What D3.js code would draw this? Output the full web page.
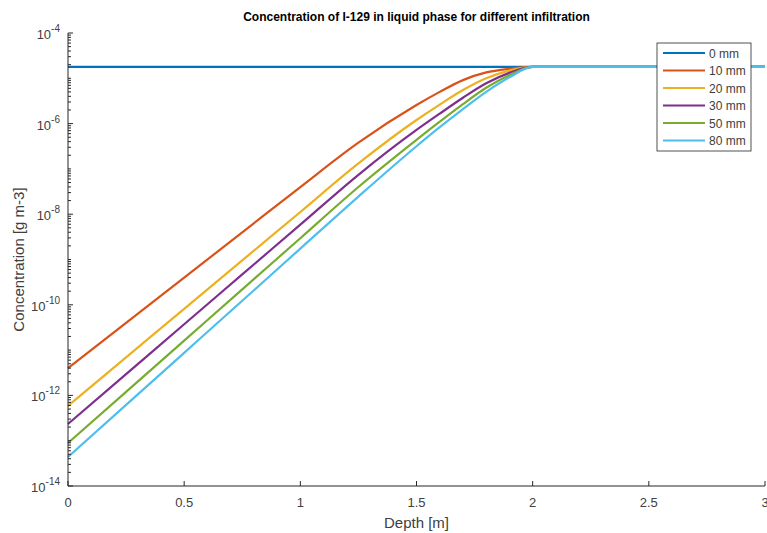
<!DOCTYPE html>
<html>
<head>
<meta charset="utf-8">
<script src="https://cdn.jsdelivr.net/npm/d3@7"></script>
<style>
  html, body { margin: 0; padding: 0; background: #fff; }
  svg { display: block; font-family: "Liberation Sans", Arial, Helvetica, sans-serif; }
</style>
</head>
<body>
<svg id="chart" width="767" height="533"></svg>
<script>
// ---- data ----
const depth = [0, 0.25, 0.5, 0.75, 1.0, 1.25, 1.5, 1.6, 1.7, 1.8, 1.9, 2.0, 3.0];
const seriesNames = ["0 mm", "10 mm", "20 mm", "30 mm", "50 mm", "80 mm"];
const conc0mm  = [1.78e-5, 1.78e-5, 1.78e-5, 1.78e-5, 1.78e-5, 1.78e-5, 1.78e-5, 1.78e-5, 1.78e-5, 1.78e-5, 1.78e-5, 1.78e-5, 1.78e-5];
const conc10mm = [3.98e-12, 3.98e-11, 3.98e-10, 3.98e-9, 3.98e-8, 3.80e-7, 2.57e-6, 5.01e-6, 9.12e-6, 1.35e-5, 1.62e-5, 1.78e-5, 1.78e-5];
const conc20mm = [5.89e-13, 6.92e-12, 8.13e-11, 9.55e-10, 1.12e-8, 1.32e-7, 1.20e-6, 2.63e-6, 5.50e-6, 1.00e-5, 1.48e-5, 1.78e-5, 1.78e-5];
const conc30mm = [2.34e-13, 2.95e-12, 3.72e-11, 4.68e-10, 5.89e-9, 7.41e-8, 7.24e-7, 1.66e-6, 3.72e-6, 7.76e-6, 1.32e-5, 1.78e-5, 1.78e-5];
const conc50mm = [8.91e-14, 1.20e-12, 1.62e-11, 2.19e-10, 2.95e-9, 3.98e-8, 4.37e-7, 1.10e-6, 2.69e-6, 6.17e-6, 1.17e-5, 1.78e-5, 1.78e-5];
const conc80mm = [4.37e-14, 6.17e-13, 8.71e-12, 1.23e-10, 1.74e-9, 2.45e-8, 3.16e-7, 8.32e-7, 2.09e-6, 5.01e-6, 1.05e-5, 1.78e-5, 1.78e-5];
const xTicks = [0, 0.5, 1, 1.5, 2, 2.5, 3];
const yTickExponents = [-4, -6, -8, -10, -12, -14];

const allSeries = [conc0mm, conc10mm, conc20mm, conc30mm, conc50mm, conc80mm];
const colors = ["#0072BD", "#D95319", "#EDB120", "#7E2F8E", "#77AC30", "#4DBEEE"];

// ---- layout ----
const svg = d3.select("#chart");
const mLeft = 68, mRight = 765, mTop = 33, mBottom = 486;
const axisColor = "#262626";
const textColor = "#404040";

const x = d3.scaleLinear().domain([0, 3]).range([mLeft, mRight]);
const y = d3.scaleLog().domain([1e-14, 1e-4]).range([mBottom, mTop]);

// ---- lines ----
const line = d3.line()
  .x((d, i) => x(depth[i]))
  .y(d => y(d))
  .curve(d3.curveMonotoneX);

const plot = svg.append("g");
allSeries.forEach((s, k) => {
  plot.append("path")
    .datum(s)
    .attr("d", line)
    .attr("fill", "none")
    .attr("stroke", colors[k])
    .attr("stroke-width", 2.2);
});

// ---- axes ----
const ax = svg.append("g");
// x axis
ax.append("line").attr("x1", mLeft).attr("x2", mRight).attr("y1", mBottom).attr("y2", mBottom)
  .attr("stroke", axisColor).attr("stroke-width", 1);
xTicks.forEach(t => {
  ax.append("line").attr("x1", x(t)).attr("x2", x(t)).attr("y1", mBottom).attr("y2", mBottom - 5)
    .attr("stroke", axisColor).attr("stroke-width", 1);
  ax.append("text").attr("x", x(t)).attr("y", mBottom + 21)
    .attr("text-anchor", "middle").attr("font-size", 13).attr("fill", textColor)
    .text(d3.format("")(t));
});
// y axis
ax.append("line").attr("x1", mLeft).attr("x2", mLeft).attr("y1", mTop).attr("y2", mBottom)
  .attr("stroke", axisColor).attr("stroke-width", 1);
// minor ticks
for (let e = -14; e < -4; e++) {
  for (let m = 1; m <= 9; m++) {
    const v = m * Math.pow(10, e);
    if (m === 1 && e % 2 === 0) continue;
    ax.append("line").attr("x1", mLeft).attr("x2", mLeft + 3).attr("y1", y(v)).attr("y2", y(v))
      .attr("stroke", axisColor).attr("stroke-width", 1);
  }
}
yTickExponents.forEach(e => {
  const yy = y(Math.pow(10, e));
  ax.append("line").attr("x1", mLeft).attr("x2", mLeft + 5).attr("y1", yy).attr("y2", yy)
    .attr("stroke", axisColor).attr("stroke-width", 1);
  const t = ax.append("text").attr("x", mLeft - 8).attr("y", yy + 6)
    .attr("text-anchor", "end").attr("font-size", 13).attr("fill", textColor);
  t.append("tspan").text("10");
  t.append("tspan").attr("font-size", 10).attr("dy", -7).text("-" + Math.abs(e));
});

// ---- labels ----
svg.append("text").attr("x", (mLeft + mRight) / 2).attr("y", 21)
  .attr("text-anchor", "middle").attr("font-size", 12).attr("font-weight", "bold")
  .attr("fill", "#000").text("Concentration of I-129 in liquid phase for different infiltration");
svg.append("text").attr("x", (mLeft + mRight) / 2).attr("y", 528)
  .attr("text-anchor", "middle").attr("font-size", 15).attr("fill", textColor).text("Depth [m]");
svg.append("text").attr("transform", `translate(24,${(mTop + mBottom) / 2}) rotate(-90)`)
  .attr("text-anchor", "middle").attr("font-size", 15).attr("fill", textColor).text("Concentration [g m-3]");

// ---- legend ----
const lg = svg.append("g");
lg.append("rect").attr("x", 657).attr("y", 43).attr("width", 94).attr("height", 108)
  .attr("fill", "#fff").attr("stroke", axisColor).attr("stroke-width", 0.8);
seriesNames.forEach((n, k) => {
  const ly = 53 + k * 17.5;
  lg.append("line").attr("x1", 663).attr("x2", 705).attr("y1", ly).attr("y2", ly)
    .attr("stroke", colors[k]).attr("stroke-width", 2.2);
  lg.append("text").attr("x", 709).attr("y", ly + 4.5).attr("font-size", 12)
    .attr("fill", textColor).text(n);
});
</script>
</body>
</html>
